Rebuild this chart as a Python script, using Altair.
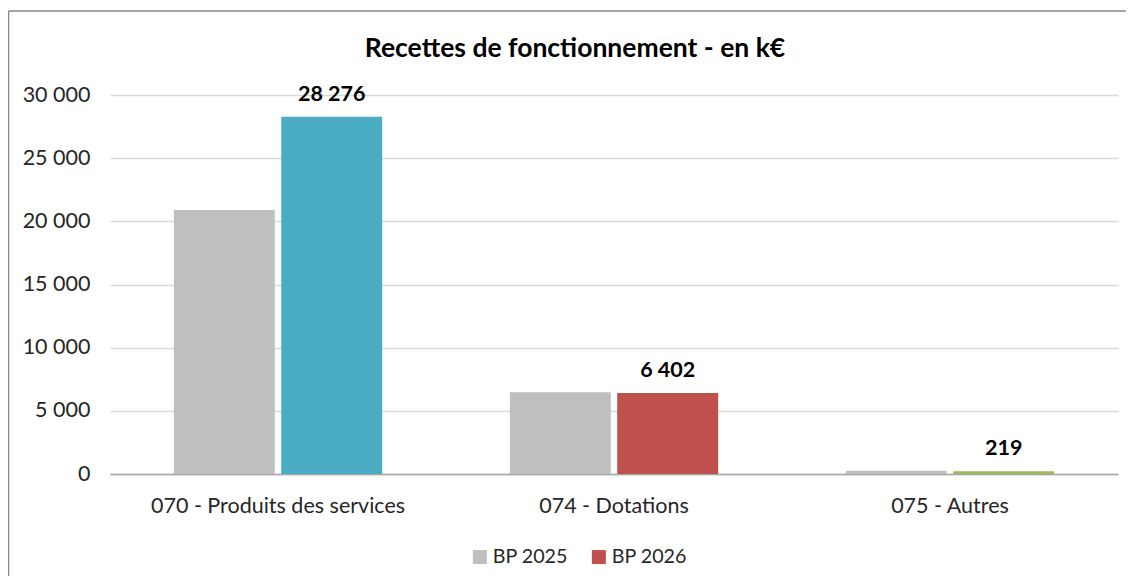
import altair as alt
import pandas as pd

categories = ["070 - Produits des services", "074 - Dotations", "075 - Autres"]
series = ["BP 2025", "BP 2026"]
bp2025 = [20900, 6480, 250]
bp2026 = [28276, 6402, 219]
colors_2025 = ["#BFBFBF", "#BFBFBF", "#BFBFBF"]
colors_2026 = ["#4BACC6", "#C0504D", "#9BBB59"]
legend_colors = ["#BFBFBF", "#C0504D"]
title_text = "Recettes de fonctionnement - en k€"

rows = []
for i, c in enumerate(categories):
    rows.append({"cat": c, "series": series[0], "value": bp2025[i], "hex": colors_2025[i]})
    rows.append({"cat": c, "series": series[1], "value": bp2026[i], "hex": colors_2026[i]})
df = pd.DataFrame(rows)

FONT = "Lato"
FS = 21.5

xenc = alt.X(
    "cat:N",
    sort=categories,
    scale=alt.Scale(paddingInner=0.38, paddingOuter=0.19),
    axis=alt.Axis(
        title=None, labelAngle=0, labelFontSize=FS, labelFont=FONT, labelColor="#262626",
        ticks=False, domainColor="#A6A6A6", domainWidth=1.5, labelPadding=21, labelLimit=0,
    ),
)
xoff = alt.XOffset("series:N", sort=series, scale=alt.Scale(paddingInner=0.06))
yenc = alt.Y(
    "value:Q",
    scale=alt.Scale(domain=[0, 30000], nice=False),
    axis=alt.Axis(
        title=None, values=[0, 5000, 10000, 15000, 20000, 25000, 30000],
        labelExpr="replace(format(datum.value, ','), ',', ' ')",
        labelFontSize=FS, labelFont=FONT, labelColor="#262626",
        ticks=False, domain=False, gridColor="#D9D9D9", gridWidth=1.5, labelPadding=20,
    ),
)

bars = alt.Chart(df).mark_bar().encode(
    x=xenc,
    xOffset=xoff,
    y=yenc,
    fill=alt.Fill("hex:N", scale=None),
)

legend_layer = alt.Chart(df).transform_filter("false").mark_square(opacity=1).encode(
    color=alt.Color(
        "series:N",
        scale=alt.Scale(domain=series, range=legend_colors),
        legend=alt.Legend(
            title=None, orient="none", direction="horizontal", legendX=360, legendY=452,
            symbolType="square", symbolSize=196, symbolStrokeWidth=0, symbolOpacity=1,
            labelFontSize=19.7, labelFont=FONT, labelColor="#262626",
            columnPadding=21, labelOffset=3, padding=0,
        ),
    ),
)

labels = alt.Chart(df).transform_filter(
    alt.datum.series == "BP 2026"
).transform_calculate(
    lbl="replace(format(datum.value, ','), ',', ' ')"
).mark_text(
    dy=-11, baseline="bottom", fontSize=FS, fontWeight="bold", font=FONT, color="#000000"
).encode(
    x=alt.X("cat:N", sort=categories),
    xOffset=alt.XOffset("series:N", sort=series),
    y="value:Q",
    text="lbl:N",
)

one = pd.DataFrame({"a": [0]})
title_layer = alt.Chart(one).mark_text(
    text=title_text, font=FONT, fontSize=26.5, fontWeight="bold", color="#000000",
    align="center", baseline="alphabetic",
).encode(x=alt.value(465), y=alt.value(-38))
left_border = alt.Chart(one).mark_rule(color="#898989", strokeWidth=1.5).encode(
    x=alt.value(-101.5), y=alt.value(-84), y2=alt.value(481)
)
top_border = alt.Chart(one).mark_rule(color="#898989", strokeWidth=1.5).encode(
    x=alt.value(-101.5), x2=alt.value(1016), y=alt.value(-84)
)

chart = alt.layer(bars, labels, legend_layer, title_layer, left_border, top_border).properties(
    width=1008,
    height=379,
    autosize=alt.AutoSizeParams(type="none"),
    padding={"left": 102, "top": 87, "right": 8, "bottom": 102},
).configure(background="#FFFFFF", view=alt.ViewConfig(stroke=None))

chart.save("out.html", embed_options={"renderer": "svg", "actions": False})
